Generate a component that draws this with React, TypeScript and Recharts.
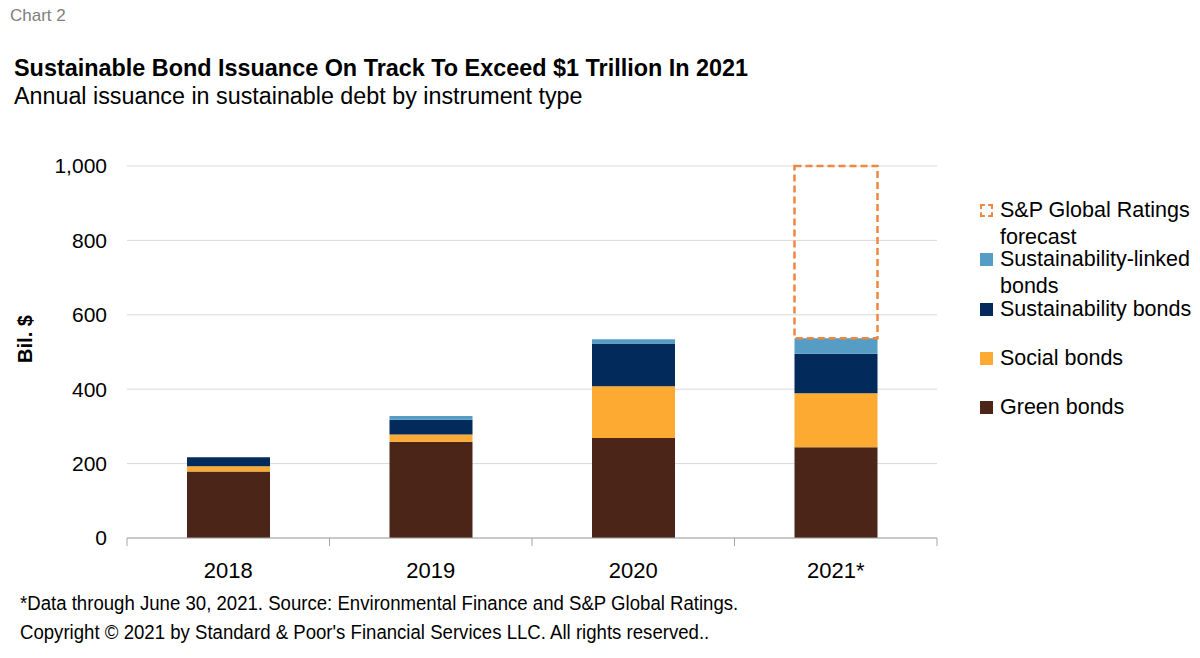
import React from 'react';
import { BarChart, Bar, XAxis, YAxis, CartesianGrid } from 'recharts';

// Annual issuance, bil. $
const years = ['2018', '2019', '2020', '2021*'];
const greenBonds = [179, 259, 269, 244];
const socialBonds = [14, 19, 139, 145];
const sustainabilityBonds = [24, 40, 115, 106];
const sustainabilityLinked = [0, 10, 11, 42];
const forecastRemainder = [null, null, null, 463];
const yTicks = [0, 200, 400, 600, 800, 1000];

const data = years.map((year, i) => ({
  year,
  green: greenBonds[i],
  social: socialBonds[i],
  sustainability: sustainabilityBonds[i],
  linked: sustainabilityLinked[i],
  forecast: forecastRemainder[i],
}));

const FONT = "'Liberation Sans', Arial, sans-serif";
const ORANGE_DASH = '#F0873F';
const AXIS_GRAY = '#a6a6a6';
const TICK_MARGIN = 24;

const legendItems = [
  { label: 'S&P Global Ratings forecast', color: ORANGE_DASH, dashed: true },
  { label: 'Sustainability-linked bonds', color: '#559DC5' },
  { label: 'Sustainability bonds', color: '#022B5B' },
  { label: 'Social bonds', color: '#FDAA33' },
  { label: 'Green bonds', color: '#4B2618' },
];

// year label plus tick marks on the band edges (Excel style)
const YearTick = (props: any) => {
  const { x, y, payload, index, visibleTicksCount } = props;
  const half = payload.offset || 0;
  const axisY = y - TICK_MARGIN;
  const isLast = index === visibleTicksCount - 1;
  return (
    <g>
      <line x1={x - half} x2={x - half} y1={axisY} y2={axisY + 8} stroke={AXIS_GRAY} />
      {isLast && <line x1={x + half} x2={x + half} y1={axisY} y2={axisY + 8} stroke={AXIS_GRAY} />}
      <text x={x} y={y} dy="0.71em" textAnchor="middle" fill="#000" fontSize={22} fontFamily={FONT}>
        {payload.value}
      </text>
    </g>
  );
};

export default function App() {
  return (
    <div style={{ position: 'absolute', top: 0, left: 0, width: 1200, height: 658, background: '#fff', fontFamily: FONT }}>
      <div style={{ position: 'absolute', left: 10, top: 6, fontSize: 17, color: '#808080' }}>Chart 2</div>
      <div style={{ position: 'absolute', left: 14, top: 55, fontSize: 23.4, fontWeight: 'bold', color: '#000', whiteSpace: 'nowrap' }}>
        Sustainable Bond Issuance On Track To Exceed $1 Trillion In 2021
      </div>
      <div style={{ position: 'absolute', left: 14, top: 83, fontSize: 23.3, color: '#000', whiteSpace: 'nowrap' }}>
        Annual issuance in sustainable debt by instrument type
      </div>
      <div
        style={{
          position: 'absolute',
          left: 25,
          top: 339,
          transform: 'translate(-50%, -50%) rotate(-90deg)',
          fontSize: 20,
          fontWeight: 'bold',
          whiteSpace: 'nowrap',
        }}
      >
        Bil. $
      </div>

      <BarChart
        width={1200}
        height={658}
        data={data}
        margin={{ top: 166, right: 263, bottom: 80, left: 67 }}
        style={{ position: 'absolute', top: 0, left: 0 }}
      >
        <CartesianGrid vertical={false} stroke="#d9d9d9" />
        <XAxis
          dataKey="year"
          stroke={AXIS_GRAY}
          tickLine={false}
          tickSize={0}
          tickMargin={TICK_MARGIN}
          height={40}
          interval={0}
          tick={YearTick}
        />
        <YAxis
          domain={[0, 1000]}
          ticks={yTicks}
          width={60}
          axisLine={false}
          tickLine={false}
          tickSize={0}
          tickMargin={20}
          tickFormatter={(v: number) => v.toLocaleString('en-US')}
          tick={{ fill: '#000', fontSize: 21, fontFamily: FONT }}
        />
        <Bar dataKey="green" stackId="a" fill="#4B2618" barSize={83} isAnimationActive={false} />
        <Bar dataKey="social" stackId="a" fill="#FDAA33" barSize={83} isAnimationActive={false} />
        <Bar dataKey="sustainability" stackId="a" fill="#022B5B" barSize={83} isAnimationActive={false} />
        <Bar dataKey="linked" stackId="a" fill="#559DC5" barSize={83} isAnimationActive={false} />
        <Bar
          dataKey="forecast"
          stackId="a"
          fill="none"
          stroke={ORANGE_DASH}
          strokeWidth={2.5}
          strokeDasharray="7 4"
          barSize={83}
          isAnimationActive={false}
        />
      </BarChart>

      <div style={{ position: 'absolute', left: 980, top: 197, fontSize: 21.5, color: '#000' }}>
        {legendItems.map((item) => (
          <div key={item.label} style={{ height: 49.3, display: 'flex', alignItems: 'flex-start' }}>
            <span
              style={{
                display: 'inline-block',
                boxSizing: 'border-box',
                width: 13,
                height: 13,
                marginTop: 7,
                marginRight: 7,
                flex: 'none',
                background: item.dashed ? 'transparent' : item.color,
                border: item.dashed ? `2.5px dashed ${item.color}` : 'none',
              }}
            />
            <span style={{ lineHeight: '27px', width: 200 }}>{item.label}</span>
          </div>
        ))}
      </div>

      <div style={{ position: 'absolute', left: 20, top: 592, fontSize: 20, color: '#000', whiteSpace: 'nowrap', transform: 'scaleX(0.93)', transformOrigin: 'left' }}>
        *Data through June 30, 2021. Source: Environmental Finance and S&amp;P Global Ratings.
      </div>
      <div style={{ position: 'absolute', left: 20, top: 621, fontSize: 20, color: '#000', whiteSpace: 'nowrap', transform: 'scaleX(0.93)', transformOrigin: 'left' }}>
        Copyright © 2021 by Standard &amp; Poor's Financial Services LLC. All rights reserved..
      </div>
    </div>
  );
}
